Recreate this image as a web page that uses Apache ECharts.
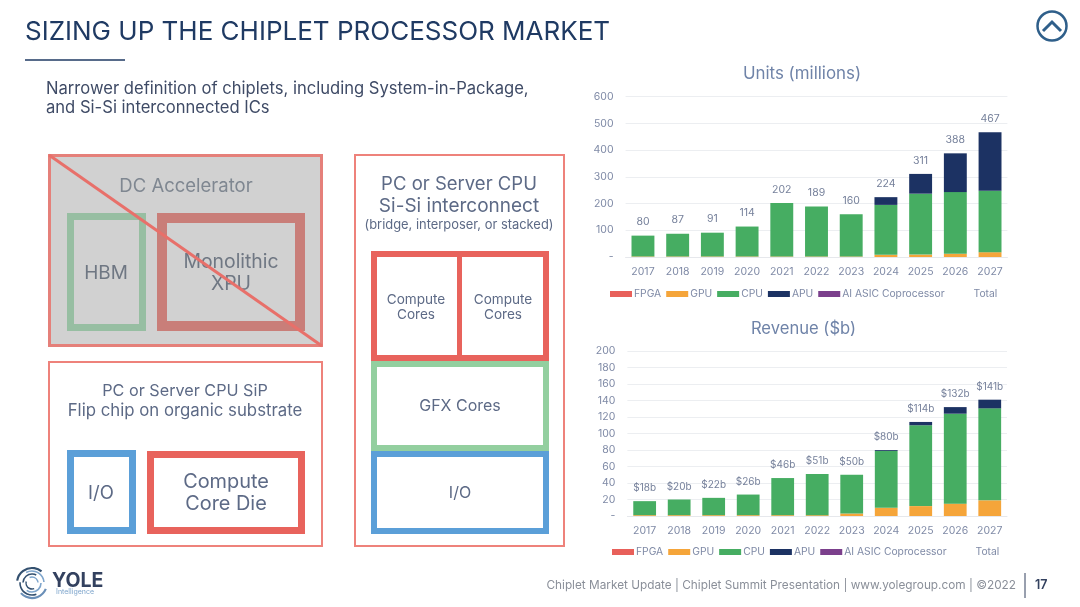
<!DOCTYPE html>
<html><head><meta charset="utf-8">
<style>html,body{margin:0;padding:0;background:#fff}#c{width:1080px;height:607px}</style>
<script src="https://cdn.jsdelivr.net/npm/echarts@6/dist/echarts.min.js"></script>
</head><body><div id="c"></div>
<script>
const years = ['2017','2018','2019','2020','2021','2022','2023','2024','2025','2026','2027'];
const unitsFPGA = [0,0,0,0,0,0,0,0,0,0,0];
const unitsGPU  = [2,2,2,2,2,2,2,8,9,12,18];
const unitsCPU  = [78,85,89,112,200,187,158,187,228,231,230];
const unitsAPU  = [0,0,0,0,0,0,0,29,74,145,219];
const unitsAI   = [0,0,0,0,0,0,0,0,0,0,0];
const unitsTotal = [80,87,91,114,202,189,160,224,311,388,467];
const revFPGA = [0,0,0,0,0,0,0,0,0,0,0];
const revGPU  = [1,1,1,1,1,1,3,10,12,15,19];
const revCPU  = [17,19,21,25,45,50,47,69,98,109,111.5];
const revAPU  = [0,0,0,0,0,0,0,1,4,8,10.5];
const revAI   = [0,0,0,0,0,0,0,0,0,0,0];
const revTotal = [18,20,22,26,46,51,50,80,114,132,141];
const legendNames = ['FPGA','GPU','CPU','APU','AI ASIC Coprocessor','Total'];

const FONT = 'Inter';
const TXT = '#5d6a86', AX = '#7f8aa6';
const COL = {FPGA:'#e8605a',GPU:'#f5a53a',CPU:'#46ad62',APU:'#1c3263',AI:'#7b3f8c'};

function stack(name, data, color, gi){
  return {name, type:'bar', stack:'s'+gi, xAxisIndex:gi, yAxisIndex:gi, data,
    barWidth:'66%', itemStyle:{color}, emphasis:{disabled:true}};
}
function total(data, gi, fmt, size){
  return {name:'Total', type:'line', xAxisIndex:gi, yAxisIndex:gi, data,
    symbol:'circle', symbolSize:1, showSymbol:true, lineStyle:{opacity:0}, itemStyle:{color:'transparent'},
    label:{show:true, position:'top', distance:7.5, formatter:p=>fmt(p.value),
      color:'#76819b', fontFamily:FONT, fontSize:size}};
}
function xAxis(gi){
  return {type:'category', gridIndex:gi, data:years, axisTick:{show:false},
    axisLine:{lineStyle:{color:'#e6e8ec',width:1}},
    axisLabel:{color:AX, fontFamily:FONT, fontSize:10.5, margin:9, interval:0}};
}
function yAxis(gi,max,interval){
  return {type:'value', gridIndex:gi, min:0, max, interval, axisLine:{show:false}, axisTick:{show:false},
    splitLine:{lineStyle:{color:'#eceef1',width:1}},
    axisLabel:{color:AX, fontFamily:FONT, fontSize:10.5, margin:12, formatter:v=>v===0?'-':String(v)}};
}
function legend(top,left){
  return {top, left, itemWidth:22, itemHeight:6, itemGap:5, icon:'rect',
    data:legendNames, selectedMode:false,
    textStyle:{color:AX, fontFamily:FONT, fontSize:10.3, padding:[0,0,0,-3]}};
}

/* decorative slide elements */
function box(x,y,w,h,stroke,lw,fill){
  return {type:'rect', shape:{x:x+lw/2,y:y+lw/2,width:w-lw,height:h-lw},
    style:{fill:fill||'none',stroke,lineWidth:lw}};
}
function txt(x,y,text,size,color,align){
  return {type:'text', x, y:y+1.5, style:{text, fontFamily:FONT, fontSize:size, fill:color||TXT,
    align:align||'center', verticalAlign:'middle', lineHeight:size*1.2}};
}
function arc(r,a,b,color,w){
  return {type:'arc', shape:{cx:32,cy:583,r,startAngle:a,endAngle:b},
    style:{stroke:color,lineWidth:w,fill:'none'}};
}
const RED='#e8635c', GREEN='#93cf9f', BLUE='#5b9fd8';
const graphics = [
  txt(25,31,'SIZING UP THE CHIPLET PROCESSOR MARKET',26,'#1f3a63','left'),
  {type:'line',shape:{x1:25,y1:60,x2:125,y2:60},style:{stroke:'#1f3a63',lineWidth:1.5}},
  txt(46,87,'Narrower definition of chiplets, including System-in-Package,',16.6,'#3f4b66','left'),
  txt(46,106,'and Si-Si interconnected ICs',16.6,'#3f4b66','left'),

  box(48,154,275,193,'#e5807a',3,'#d1d1d1'),
  txt(186,185,'DC Accelerator',18.5,'#7f8791'),
  box(67,213,79,118,'#97bea2',7),
  txt(106,272,'HBM',19,'#6f7783'),
  box(157,213,148,118,'#c97e79',10),
  txt(231,261,'Monolithic',19.4,'#6f7783'),
  txt(231,283,'XPU',19.4,'#6f7783'),
  {type:'line',shape:{x1:49,y1:155,x2:322,y2:346},style:{stroke:'#e8706a',lineWidth:3}},

  box(48,361,275,186,'#ee827b',2),
  txt(185,390,'PC or Server CPU SiP',16.2,TXT),
  txt(185,409,'Flip chip on organic substrate',16.8,TXT),
  box(67,450,69,84,BLUE,7),
  txt(101,492,'I/O',18.5,TXT),
  box(147,451,158,83,RED,7),
  txt(226,481,'Compute',19.9,TXT),
  txt(226,503,'Core Die',19.9,TXT),

  box(354,154,211,393,'#ee827b',2),
  txt(459,183,'PC or Server CPU',18.5,TXT),
  txt(459,205,'Si-Si interconnect',19,TXT),
  txt(459,224,'(bridge, interposer, or stacked)',12.9,TXT),
  box(371,251,178,110,RED,6),
  {type:'line',shape:{x1:459.5,y1:252,x2:459.5,y2:360},style:{stroke:RED,lineWidth:5}},
  txt(416,298,'Compute',13.6,TXT),
  txt(416,313,'Cores',13.6,TXT),
  txt(503,298,'Compute',13.6,TXT),
  txt(503,313,'Cores',13.6,TXT),
  box(371,361,178,90,GREEN,6),
  txt(460,405,'GFX Cores',16,TXT),
  box(371,451,178,83,BLUE,6),
  txt(460,492,'I/O',16,TXT),

  /* top-right button */
  {type:'circle',shape:{cx:1052,cy:26,r:14.5},style:{stroke:'#2f5f8a',lineWidth:2.5,fill:'none'}},
  {type:'polyline',shape:{points:[[1043,31],[1052,22],[1061,31]]},style:{stroke:'#2f5f8a',lineWidth:3,fill:'none'}},

  /* logo */
  arc(15,0.4,2.4,'#6a8fb8',2.2), arc(15,3.3,5.4,'#33506f',2.2),
  arc(12,1.2,3.2,'#33506f',1.6), arc(12,4.2,6.2,'#7ea5cc',1.6),
  arc(9,0,2.2,'#7ea5cc',1.6), arc(9,3.2,5.2,'#33506f',1.6),
  arc(6,1.2,3.4,'#33506f',1.4), arc(6,4.3,6.2,'#7ea5cc',1.4),
  {type:'text',x:52,y:581,style:{text:'YOLE',fontFamily:FONT,fontWeight:700,fontSize:19.5,fill:'#33415f',align:'left',verticalAlign:'middle'}},
  {type:'text',x:56,y:592,style:{text:'Intelligence',fontFamily:FONT,fontSize:7,fill:'#7ea5cc',align:'left',verticalAlign:'middle'}},

  /* footer */
  txt(1016,584,'Chiplet Market Update | Chiplet Summit Presentation | www.yolegroup.com | ©2022',11.8,'#8a8f99','right'),
  {type:'line',shape:{x1:1025,y1:573,x2:1025,y2:598},style:{stroke:'#33415f',lineWidth:1}},
  {type:'text',x:1035,y:585,style:{text:'17',fontFamily:FONT,fontWeight:600,fontSize:12.5,fill:'#33415f',align:'left',verticalAlign:'middle'}}
];

const chart = echarts.init(document.getElementById('c'), null, {renderer:'canvas', width:1080, height:607});
chart.setOption({
  animation:false,
  backgroundColor:'#fff',
  color:[COL.FPGA,COL.GPU,COL.CPU,COL.APU,COL.AI,'transparent'],
  title:[
    {text:'Units (millions)',left:797,top:69,textAlign:'center',textVerticalAlign:'middle',textStyle:{color:'#6f83a8',fontFamily:FONT,fontSize:16.9,fontWeight:400}},
    {text:'Revenue ($b)',left:798.5,top:324,textAlign:'center',textVerticalAlign:'middle',textStyle:{color:'#6f83a8',fontFamily:FONT,fontSize:16.6,fontWeight:400}}
  ],
  grid:[
    {left:625.6,top:96.7,width:381.8,height:160.3},
    {left:627.4,top:351,width:379.6,height:165}
  ],
  xAxis:[xAxis(0),xAxis(1)],
  yAxis:[yAxis(0,600,100),yAxis(1,200,20)],
  legend:[legend(284,605),legend(542,607)],
  series:[
    stack('FPGA',unitsFPGA,COL.FPGA,0),stack('GPU',unitsGPU,COL.GPU,0),stack('CPU',unitsCPU,COL.CPU,0),stack('APU',unitsAPU,COL.APU,0),stack('AI ASIC Coprocessor',unitsAI,COL.AI,0),
    total(unitsTotal,0,v=>String(v),10.5),
    stack('FPGA',revFPGA,COL.FPGA,1),stack('GPU',revGPU,COL.GPU,1),stack('CPU',revCPU,COL.CPU,1),stack('APU',revAPU,COL.APU,1),stack('AI ASIC Coprocessor',revAI,COL.AI,1),
    total(revTotal,1,v=>'$'+v+'b',10)
  ],
  graphic:{elements:graphics}
});
</script></body></html>
